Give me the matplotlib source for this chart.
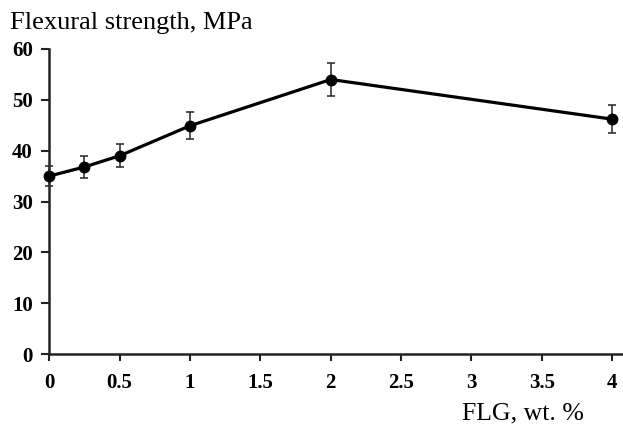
import matplotlib
matplotlib.use("Agg")
import matplotlib.pyplot as plt

# FLG content (wt. %) and measured flexural strength (MPa)
flg = [0, 0.25, 0.5, 1, 2, 4]
strength = [35.0, 36.8, 39.0, 44.9, 54.0, 46.2]
err = [2.0, 2.2, 2.3, 2.7, 3.2, 2.8]
xticks = [0, 0.5, 1, 1.5, 2, 2.5, 3, 3.5, 4]
xticklabels = ["0", "0.5", "1", "1.5", "2", "2.5", "3", "3.5", "4"]
yticks = [0, 10, 20, 30, 40, 50, 60]

plt.rcParams["font.family"] = ["Liberation Serif", "DejaVu Serif"]

fig = plt.figure(figsize=(6.23, 4.25), dpi=100)
ax = fig.add_axes([49.3 / 623, 1 - 354 / 425, (622 - 49.3) / 623, (354 - 49) / 425])

ax.errorbar(flg, strength, yerr=err, color="black", lw=2.3, marker="o",
            markersize=7.5, ecolor="#333333", elinewidth=1.2, capsize=3,
            capthick=1.2, zorder=3, clip_on=False)

ax.set_xlim(0, 4.07)
ax.set_ylim(0, 60)
ax.set_xticks(xticks)
ax.set_xticklabels(xticklabels)
ax.set_yticks(yticks)

for s in ["top", "right"]:
    ax.spines[s].set_visible(False)
for s in ["left", "bottom"]:
    ax.spines[s].set_linewidth(1.8)
    ax.spines[s].set_color("#222222")

ax.tick_params(axis="y", direction="out", length=6, width=1.5,
               labelsize=15, pad=6, color="#222222")
ax.tick_params(axis="x", direction="out", length=5, width=1.5,
               labelsize=15, pad=9, color="#222222")
for lab in ax.get_xticklabels() + ax.get_yticklabels():
    lab.set_fontweight("bold")

fig.text(10 / 623, 1 - 23 / 425, "Flexural strength, MPa", fontsize=19,
         ha="left", va="center")
fig.text(523 / 623, 1 - 413 / 425, "FLG, wt. %", fontsize=18.5,
         ha="center", va="center")

fig.savefig("out.png", dpi=100)
